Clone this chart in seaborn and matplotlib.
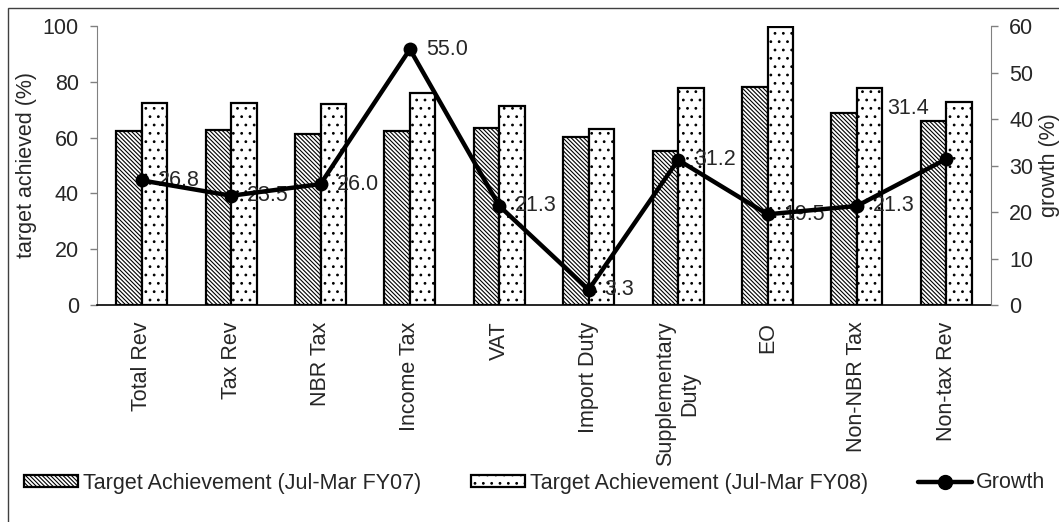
import numpy as np
import pandas as pd
import matplotlib
matplotlib.use("Agg")
import matplotlib.pyplot as plt
import seaborn as sns
from matplotlib.patches import Rectangle, Patch
from matplotlib.lines import Line2D

# Revenue heads and their figures
categories = ["Total Rev", "Tax Rev", "NBR Tax", "Income Tax", "VAT", "Import Duty",
              "Supplementary\nDuty", "EO", "Non-NBR Tax", "Non-tax Rev"]
fy07 = [62.4, 62.7, 61.3, 62.4, 63.6, 60.3, 55.3, 78.0, 68.7, 66.0]
fy08 = [72.5, 72.5, 72.2, 75.9, 71.3, 63.1, 77.7, 99.8, 77.9, 72.6]
growth = [26.8, 23.5, 26.0, 55.0, 21.3, 3.3, 31.2, 19.5, 21.3, 31.4]
series_names = ["Target Achievement (Jul-Mar FY07)", "Target Achievement (Jul-Mar FY08)"]
growth_name = "Growth"

df = pd.DataFrame({
    "category": categories * 2,
    "value": fy07 + fy08,
    "series": [series_names[0]] * len(categories) + [series_names[1]] * len(categories),
})

sns.set_style("white")
plt.rcParams["font.family"] = ["Liberation Sans", "DejaVu Sans"]
plt.rcParams["hatch.linewidth"] = 0.8
FS = 15.5
GREY = "#808080"

W, H = 1059, 522
fig = plt.figure(figsize=(W / 100, H / 100), dpi=100)
ax = fig.add_axes([97 / W, 1 - 305 / H, 894 / W, 279 / H])

sns.barplot(data=df, x="category", y="value", hue="series", order=categories,
            hue_order=series_names, palette=["white", "white"], saturation=1,
            edgecolor="black", linewidth=1.6, width=0.57, errorbar=None,
            legend=False, ax=ax)

hatches = ["\\" * 8, ".."]
for container, hatch in zip(ax.containers, hatches):
    for bar in container:
        bar.set_hatch(hatch)

ax.set_xlim(-0.5, len(categories) - 0.5)
ax.set_ylim(0, 100)
ax.set_yticks(np.arange(0, 101, 20))
ax.set_xlabel("")
ax.set_ylabel("target achieved (%)", fontsize=FS)
ax.yaxis.set_label_coords((37 - 97) / 894, 0.5)
ax.set_xticks(range(len(categories)))
ax.set_xticklabels(categories, rotation=90, ha="center", va="top",
                   multialignment="center", fontsize=FS)
ax.set_xticks(np.arange(-0.5, len(categories), 1), minor=True)
ax.tick_params(axis="x", which="major", length=0, pad=12)
ax.tick_params(axis="x", which="minor", length=5, width=1, color=GREY, direction="out")
ax.tick_params(axis="y", length=5, width=1, color=GREY, direction="out",
               labelsize=FS, pad=8, left=True)
for s in ["top", "right"]:
    ax.spines[s].set_visible(False)
ax.spines["left"].set_color(GREY)
ax.spines["bottom"].set_color("black")
ax.spines["bottom"].set_linewidth(1.2)

# Growth line on the secondary axis
ax2 = ax.twinx()
sns.lineplot(x=np.arange(len(categories)), y=growth, ax=ax2, color="black",
             linewidth=3.2, marker="o", markersize=10, markeredgewidth=0, zorder=3)
ax2.set_ylim(0, 60)
ax2.set_yticks(np.arange(0, 61, 10))
ax2.set_xlim(-0.5, len(categories) - 0.5)
ax2.set_ylabel("growth (%)", fontsize=FS)
ax2.yaxis.set_label_coords((1039 - 97) / 894, 0.5)
ax2.tick_params(axis="y", length=5, width=1, color=GREY, direction="out",
                labelsize=FS, pad=8, right=True)
for s in ["top", "left", "bottom"]:
    ax2.spines[s].set_visible(False)
ax2.spines["right"].set_color(GREY)

offsets = [(11.5, 0)] * (len(categories) - 1) + [(-42.5, 36.7)]
for i, (g, off) in enumerate(zip(growth, offsets)):
    ax2.annotate(f"{g:.1f}", (i, g), xytext=off, textcoords="offset points",
                 ha="left", va="center", fontsize=FS, zorder=2)

handles = [
    Patch(facecolor="white", edgecolor="black", hatch=hatches[0], linewidth=1.6),
    Patch(facecolor="white", edgecolor="black", hatch=hatches[1], linewidth=1.6),
    Line2D([], [], color="black", linewidth=3.2, marker="o", markersize=10),
]
fig.legend(handles, series_names + [growth_name], loc="center",
           bbox_to_anchor=(535 / W, 1 - 483 / H), ncol=3, frameon=False,
           fontsize=FS, handlelength=2.5, handleheight=0.5, handletextpad=0.2,
           columnspacing=2.35)

fig.add_artist(Rectangle((8 / W, -0.5), 2, 1.5 - 8 / H, transform=fig.transFigure,
                         fill=False, edgecolor="#404040", linewidth=1))

fig.savefig("out.png", dpi=100)
